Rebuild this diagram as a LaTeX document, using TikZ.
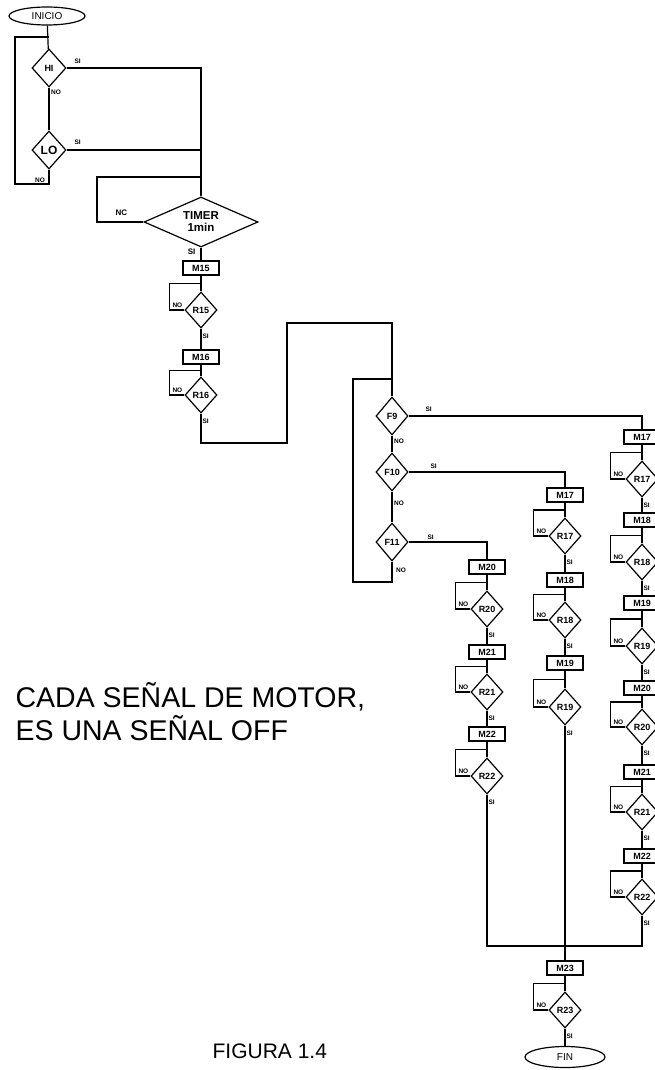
\documentclass[tikz,border=0pt]{standalone}
\usepackage{fontspec}
\setmainfont{Liberation Sans}
\usetikzlibrary{shapes.geometric,calc}
\newcommand\mrunit[7]{%
  \node[mbox] (#1) at (#5,#6) {#2};
  \node[rdia] (#3) at (#5,#7) {#4};
  \draw (#1) -- (#3);
  \draw (#3.west) -- ++(-15,0) |- ($(#1.south)!0.5!(#3.north)$);
  \node[lbl] (#3no) at ($(#3.west)+(-7,-5)$) {NO};
  \node[lbl,anchor=west] (#3si) at ($(#3.south)+(1,8)$) {SI};
}
\begin{document}
\begin{tikzpicture}[x=1pt,y=-1pt,line width=1.2pt,
  every node/.style={font=\fontsize{9}{10}\selectfont\bfseries},
  mbox/.style={draw,rectangle,minimum width=36pt,minimum height=14pt,inner sep=0pt},
  rdia/.style={draw,diamond,minimum width=32pt,minimum height=36pt,inner sep=0pt},
  term/.style={draw,ellipse,minimum width=76pt,minimum height=18pt,inner sep=0pt,font=\fontsize{10}{11}\selectfont},
  lbl/.style={font=\fontsize{6.5}{6.5}\selectfont\bfseries,inner sep=0pt},
  note/.style={font=\fontsize{28.5}{33}\selectfont,inner sep=0pt,anchor=base west}]
\useasboundingbox (0,0) rectangle (655,1070);
\fill[white] (0,0) rectangle (655,1070);
\clip (0,0) rectangle (655,1070);

% start section
\node[term] (start) at (47,16) {INICIO};
\node[rdia,minimum width=34pt,minimum height=38pt] (hi) at (49,68) {HI};
\node[rdia,minimum width=34pt,minimum height=38pt,font=\fontsize{12}{12}\selectfont\bfseries] (lo) at (49,150) {LO};
\node[draw,diamond,shape aspect=2.3,minimum width=114pt,minimum height=50pt,inner sep=0pt,align=center,font=\fontsize{11.5}{12}\selectfont\bfseries] (timer) at (201,222) {TIMER\\1min};

\coordinate (j0) at (49,37);
\coordinate (lp) at (15,184);
\coordinate (tj) at (201,177);
\coordinate (tl) at (97,177);

\draw (start) -- (hi);
\draw (hi) -- (lo);
\draw (lo.south) |- (lp) |- (j0);
\draw (hi.east) -| (timer.north);
\draw (lo.east) -- (lo.east -| timer.north);
\draw (timer.west) -| (tl) -- (tj);

\node[lbl] (hisi) at ($(hi.east)+(11,-7)$) {SI};
\node[lbl] (hino) at ($(hi.south)+(7,5)$) {NO};
\node[lbl] (losi) at ($(lo.east)+(11,-8)$) {SI};
\node[lbl] (lono) at ($(lo.south)+(-9,11)$) {NO};
\node[lbl,font=\fontsize{8}{8}\selectfont\bfseries] (timerno) at ($(timer.west)+(-22,-9)$) {NC};
\node[lbl,font=\fontsize{8}{8}\selectfont\bfseries,anchor=east] (timersi) at ($(timer.south)+(-5,4)$) {SI};

% main column
\mrunit{m15}{M15}{r15}{R15}{201}{268}{310}
\mrunit{m16}{M16}{r16}{R16}{201}{357}{395}
\draw (timer.south) -- (m15);
\draw (r15) -- (m16);

% jump to F section
\coordinate (a1) at (287,443);
\coordinate (a2) at (287,323);
\coordinate (b1) at (353,582);
\coordinate (b2) at (392,379);
\node[rdia,minimum height=38pt] (f9) at (392,416) {F9};
\node[rdia,minimum height=38pt] (f10) at (392,472) {F10};
\node[rdia,minimum height=38pt] (f11) at (392,542) {F11};
\draw (r16.south) |- (a1) -- (a2) -| (f9.north);
\draw (f9) -- (f10);
\draw (f10) -- (f11);
\draw (f11.south) |- (b1) |- (b2);
\node[lbl] (f9si) at ($(f9.east)+(20,-7)$) {SI};
\node[lbl] (f10si) at ($(f10.east)+(25,-6)$) {SI};
\node[lbl] (f11si) at ($(f11.east)+(22,-5)$) {SI};
\node[lbl] (f9no) at ($(f9.south)+(7,6)$) {NO};
\node[lbl] (f10no) at ($(f10.south)+(7,12)$) {NO};
\node[lbl] (f11no) at ($(f11.south)+(9,9)$) {NO};

% right column (F9 = SI)
\mrunit{m17a}{M17}{r17a}{R17}{642}{437}{479}
\mrunit{m18a}{M18}{r18a}{R18}{642}{520}{562}
\mrunit{m19a}{M19}{r19a}{R19}{642}{603}{646}
\mrunit{m20a}{M20}{r20a}{R20}{642}{688}{727}
\mrunit{m21a}{M21}{r21a}{R21}{642}{772}{812}
\mrunit{m22a}{M22}{r22a}{R22}{642}{856}{897}
\draw (f9.east) -| (m17a.north);
\draw (r17a) -- (m18a);
\draw (r18a) -- (m19a);
\draw (r19a) -- (m20a);
\draw (r20a) -- (m21a);
\draw (r21a) -- (m22a);

% middle column (F10 = SI)
\mrunit{m17b}{M17}{r17b}{R17}{565}{495}{536}
\mrunit{m18b}{M18}{r18b}{R18}{565}{580}{620}
\mrunit{m19b}{M19}{r19b}{R19}{565}{663}{707}
\draw (f10.east) -| (m17b.north);
\draw (r17b) -- (m18b);
\draw (r18b) -- (m19b);

% left column (F11 = SI)
\mrunit{m20c}{M20}{r20c}{R20}{487}{567}{609}
\mrunit{m21c}{M21}{r21c}{R21}{487}{652}{692}
\mrunit{m22c}{M22}{r22c}{R22}{487}{734}{776}
\draw (f11.east) -| (m20c.north);
\draw (r20c) -- (m21c);
\draw (r21c) -- (m22c);

% merge and end
\coordinate (bl) at (487,946);
\coordinate (br) at (642,946);
\mrunit{m23}{M23}{r23}{R23}{565}{968}{1010}
\draw (r22c.south) -- (bl) -- (br) -- (r22a.south);
\draw (r19b.south) -- (m23.north);
\node[term,minimum width=80pt,minimum height=21pt] (fin) at (565,1057) {FIN};
\draw (r23) -- (fin);

% notes
\node[note] (note1) at (15,707) {CADA SEÑAL DE MOTOR,};
\node[note] (note2) at (15,740) {ES UNA SEÑAL OFF};
\node[note,font=\fontsize{21}{21}\selectfont] (fig) at (212,1058) {FIGURA 1.4};
\end{tikzpicture}
\end{document}
